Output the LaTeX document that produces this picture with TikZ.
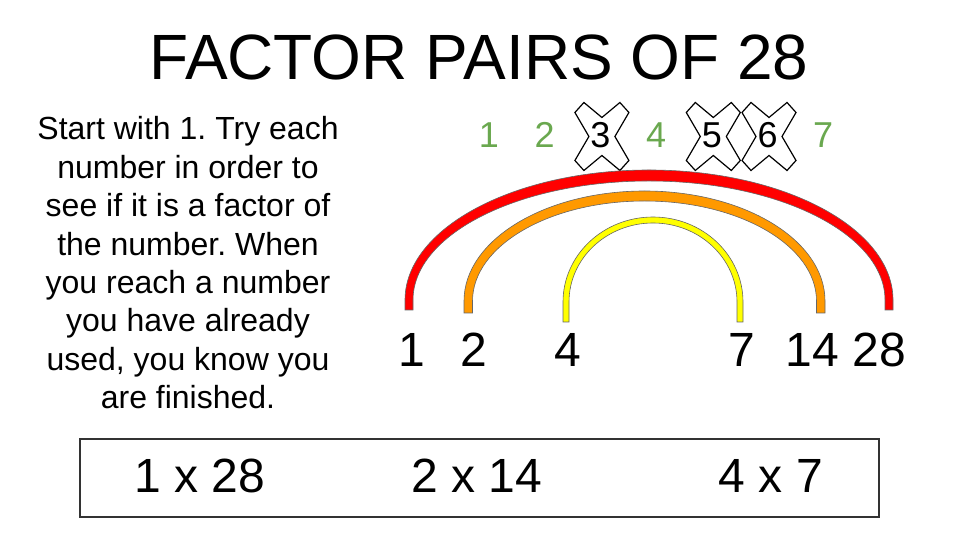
\documentclass[tikz,border=0pt]{standalone}
\usepackage{fontspec}
\setmainfont{Liberation Sans}
\usepackage{tikz}
\usepackage{xcolor}
\usetikzlibrary{positioning}
\frenchspacing
\definecolor{trygreen}{HTML}{6AA84F}
\definecolor{arcred}{HTML}{FF0000}
\definecolor{arcorange}{HTML}{FF9900}
\definecolor{arcyellow}{HTML}{FFFF00}
\definecolor{arcline}{HTML}{666666}
\definecolor{boxline}{HTML}{333333}
% colour, centre x, bottom y, straight part, outer/inner x radius, outer/inner y radius
\newcommand{\pairarc}[8]{%
  \draw [band, fill=#1] (#2-#5,#3) -- ++(0,#4)
    arc[start angle=180, end angle=0, x radius=#5, y radius=#7] -- ++(0,-#4)
    -- (#2+#6,#3) -- ++(0,#4)
    arc[start angle=0, end angle=180, x radius=#6, y radius=#8] -- ++(0,-#4) -- cycle;}
\tikzstyle{heading} = [inner sep=0pt, font=\fontsize{64}{70}\selectfont]
\tikzstyle{note} = [inner sep=0pt, anchor=north, align=center, font=\fontsize{32}{38.4}\selectfont]
\tikzstyle{trial} = [inner sep=0pt, text=trygreen, font=\fontsize{36}{40}\selectfont]
\tikzstyle{struck} = [inner sep=0pt, text=black, font=\fontsize{36}{40}\selectfont]
\tikzstyle{xmark} = [draw=black, line width=1.2pt, line join=miter]
\tikzstyle{band} = [draw=arcline, line width=0.6pt]
\tikzstyle{factor} = [inner sep=0pt, font=\fontsize{48}{52}\selectfont]
\tikzstyle{pairbox} = [draw=boxline, line width=1.5pt, minimum width=799pt, minimum height=78pt]
\tikzstyle{pairtext} = [inner sep=0pt, font=\fontsize{48}{52}\selectfont]

\begin{document}
\begin{tikzpicture}[x=1pt, y=1pt]
    \useasboundingbox (0,0) rectangle (960,540);

    % Title and rule
    \node (title) [heading] at (479,483) {FACTOR PAIRS OF 28};
    \node (rule) [note] at (188,423.5) {Start with 1. Try each\\number in order to\\see if it is a factor of\\the number. When\\you reach a number\\you have already\\used, you know you\\are finished.};

    % Numbers tried
    \foreach \i/\st in {1/trial, 2/trial, 3/struck, 4/trial, 5/struck, 6/struck, 7/trial}
        \node (t\i) [\st] at ({489+55.7*(\i-1)},405) {\i};
    \foreach \i in {3,5,6}
        \draw [xmark, shift={(t\i)}, xshift=1.5pt, yshift=-1.5pt] (-27,-24) -- (-18,-34) -- (0,-19) -- (18,-34) -- (27,-24) -- (13,0)
            -- (27,24) -- (18,34) -- (0,19) -- (-18,34) -- (-27,24) -- (-13,0) -- cycle;

    % Arcs
    \pairarc{arcred}{649}{230}{10}{244}{236}{130}{119}
    \pairarc{arcorange}{644.5}{227}{12}{180.5}{172}{110}{100}
    \pairarc{arcyellow}{653}{218}{20}{90}{84}{85}{79}

    % Factors
    \foreach \n/\x in {1/412, 2/474, 4/568, 7/742, 14/812, 28/879}
        \node (f\n) [factor] at (\x,190.5) {\n};

    % Pairs
    \node (pairs) [pairbox] at (479.5,62) {};
    \node (p1) [pairtext] at (200,64) {1 x 28};
    \node (p2) [pairtext] at (477,64) {2 x 14};
    \node (p3) [pairtext] at (771,64) {4 x 7};

\end{tikzpicture}
\end{document}
